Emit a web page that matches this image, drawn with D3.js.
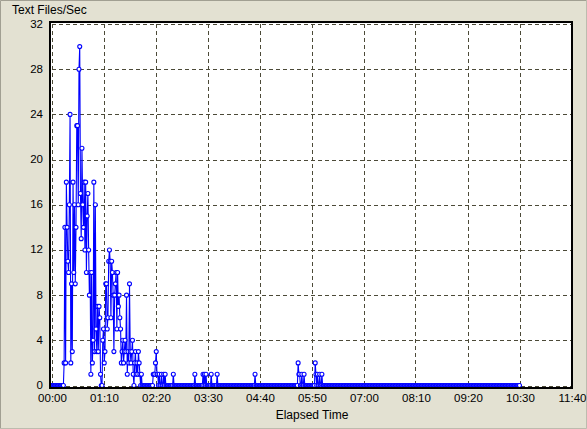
<!DOCTYPE html>
<html>
<head>
<meta charset="utf-8">
<script src="https://cdn.jsdelivr.net/npm/d3@7"></script>
<style>
  body { margin: 0; background: #e3e1d2; }
  svg { display: block; }
  text { font-family: 'Liberation Sans', Arial, sans-serif; font-size: 12px; fill: #000; }
  .tick-label { font-size: 11.5px; }
</style>
</head>
<body>
<div id="chart"></div>
<script>
/* global d3 */

// one sample per minute of elapsed time, 00:00 .. 10:30
const textFilesPerSec = [
  0, 0, 0, 0, 0, 0, 0, 0, 0, 0, 0, 0, 0, 0, 0, 0, 0, 2, 14, 2, 18, 14, 11, 10, 16, 24, 2, 9, 3, 18,
  10, 16, 9, 14, 23, 23, 16, 28, 30, 17, 13, 21, 16, 14, 18, 12, 18, 10, 15, 17, 12, 8, 10, 1, 10, 2, 4, 18, 3, 16,
  5, 3, 7, 3, 7, 6, 1, 0, 0, 4, 5, 2, 3, 9, 9, 5, 6, 11, 12, 11, 6, 11, 10, 8, 3, 8, 9, 10, 5, 10,
  7, 8, 6, 5, 2, 3, 4, 2, 3, 4, 3, 8, 1, 3, 2, 9, 3, 2, 3, 4, 1, 0, 2, 3, 1, 2, 1, 3, 2, 1,
  0, 1, 0, 0, 0, 0, 0, 0, 0, 0, 0, 0, 0, 0, 0, 0, 0, 1, 1, 1, 2, 3, 1, 1, 0, 1, 0, 0, 1, 0,
  0, 1, 0, 1, 0, 0, 0, 0, 0, 0, 0, 0, 0, 0, 1, 0, 0, 0, 0, 0, 0, 0, 0, 0, 0, 0, 0, 0, 0, 0,
  0, 0, 0, 0, 0, 0, 0, 0, 0, 0, 0, 0, 0, 1, 0, 0, 0, 0, 0, 0, 0, 0, 0, 0, 1, 0, 1, 0, 1, 0,
  0, 0, 0, 0, 0, 1, 0, 0, 0, 0, 0, 0, 0, 1, 0, 0, 0, 0, 0, 0, 0, 0, 0, 0, 0, 0, 0, 0, 0, 0,
  0, 0, 0, 0, 0, 0, 0, 0, 0, 0, 0, 0, 0, 0, 0, 0, 0, 0, 0, 0, 0, 0, 0, 0, 0, 0, 0, 0, 0, 0,
  0, 0, 0, 0, 1, 0, 0, 0, 0, 0, 0, 0, 0, 0, 0, 0, 0, 0, 0, 0, 0, 0, 0, 0, 0, 0, 0, 0, 0, 0,
  0, 0, 0, 0, 0, 0, 0, 0, 0, 0, 0, 0, 0, 0, 0, 0, 0, 0, 0, 0, 0, 0, 0, 0, 0, 0, 0, 0, 0, 0,
  0, 0, 2, 1, 1, 0, 0, 1, 0, 0, 1, 0, 0, 0, 0, 0, 0, 0, 0, 0, 0, 0, 0, 0, 0, 2, 1, 0, 1, 0,
  0, 1, 0, 0, 1, 0, 0, 0, 0, 0, 0, 0, 0, 0, 0, 0, 0, 0, 0, 0, 0, 0, 0, 0, 0, 0, 0, 0, 0, 0,
  0, 0, 0, 0, 0, 0, 0, 0, 0, 0, 0, 0, 0, 0, 0, 0, 0, 0, 0, 0, 0, 0, 0, 0, 0, 0, 0, 0, 0, 0,
  0, 0, 0, 0, 0, 0, 0, 0, 0, 0, 0, 0, 0, 0, 0, 0, 0, 0, 0, 0, 0, 0, 0, 0, 0, 0, 0, 0, 0, 0,
  0, 0, 0, 0, 0, 0, 0, 0, 0, 0, 0, 0, 0, 0, 0, 0, 0, 0, 0, 0, 0, 0, 0, 0, 0, 0, 0, 0, 0, 0,
  0, 0, 0, 0, 0, 0, 0, 0, 0, 0, 0, 0, 0, 0, 0, 0, 0, 0, 0, 0, 0, 0, 0, 0, 0, 0, 0, 0, 0, 0,
  0, 0, 0, 0, 0, 0, 0, 0, 0, 0, 0, 0, 0, 0, 0, 0, 0, 0, 0, 0, 0, 0, 0, 0, 0, 0, 0, 0, 0, 0,
  0, 0, 0, 0, 0, 0, 0, 0, 0, 0, 0, 0, 0, 0, 0, 0, 0, 0, 0, 0, 0, 0, 0, 0, 0, 0, 0, 0, 0, 0,
  0, 0, 0, 0, 0, 0, 0, 0, 0, 0, 0, 0, 0, 0, 0, 0, 0, 0, 0, 0, 0, 0, 0, 0, 0, 0, 0, 0, 0, 0,
  0, 0, 0, 0, 0, 0, 0, 0, 0, 0, 0, 0, 0, 0, 0, 0, 0, 0, 0, 0, 0, 0, 0, 0, 0, 0, 0, 0, 0, 0,
  0,
];
const sampleMinutes = 1;

const xTickMinutes = [0, 70, 140, 210, 280, 350, 420, 490, 560, 630, 700];
const xTickLabels = ['00:00', '01:10', '02:20', '03:30', '04:40', '05:50', '07:00', '08:10', '09:20', '10:30', '11:40'];
const yTicks = [0, 4, 8, 12, 16, 20, 24, 28, 32];

const yTitle = 'Text Files/Sec';
const xTitle = 'Elapsed Time';

const width = 587;
const height = 429;
const plot = { left: 51.5, right: 571.5, top: 24, bottom: 385.5 };

const x = d3.scaleLinear()
  .domain([0, 700])
  .range([plot.left, plot.right]);
const y = d3.scaleLinear()
  .domain([0, 32])
  .range([plot.bottom, plot.top]);

const points = textFilesPerSec.map((v, i) => ({ t: i * sampleMinutes, v }));

const svg = d3.select('#chart').append('svg')
  .attr('width', width)
  .attr('height', height);

// window-ish background and sunken border
svg.append('rect')
  .attr('width', width)
  .attr('height', height)
  .attr('fill', '#e3e1d2');
svg.append('path')
  .attr('d', `M0.5,${height} V0.5 H${width}`)
  .attr('fill', 'none')
  .attr('stroke', '#a19f92');
svg.append('path')
  .attr('d', `M${width - 0.5},0 V${height - 0.5} H0`)
  .attr('fill', 'none')
  .attr('stroke', '#bdbbae');

// plot area
svg.append('rect')
  .attr('x', 50)
  .attr('y', 22)
  .attr('width', 522)
  .attr('height', 366)
  .attr('fill', '#fff');

const grid = svg.append('g')
  .attr('stroke', '#4c4a38')
  .attr('stroke-dasharray', '4,3')
  .attr('shape-rendering', 'crispEdges');
grid.selectAll('line.v')
  .data(xTickMinutes)
  .enter().append('line')
  .attr('class', 'v')
  .attr('x1', d => Math.round(x(d)) + 0.5)
  .attr('x2', d => Math.round(x(d)) + 0.5)
  .attr('y1', plot.top)
  .attr('y2', plot.bottom);
grid.selectAll('line.h')
  .data(yTicks)
  .enter().append('line')
  .attr('class', 'h')
  .attr('x1', plot.left)
  .attr('x2', plot.right)
  .attr('y1', d => Math.round(y(d)) + 0.5)
  .attr('y2', d => Math.round(y(d)) + 0.5);

// series line with hollow markers
const line = d3.line()
  .x(d => x(d.t))
  .y(d => y(d.v));

svg.append('path')
  .datum(points)
  .attr('d', line)
  .attr('fill', 'none')
  .attr('stroke', '#0000ff')
  .attr('stroke-width', 1.1);

svg.append('g')
  .selectAll('circle')
  .data(points)
  .enter().append('circle')
  .attr('cx', d => x(d.t))
  .attr('cy', d => y(d.v))
  .attr('r', 2)
  .attr('fill', '#fff')
  .attr('stroke', '#0000ff')
  .attr('stroke-width', 1.1);

// black frame
svg.append('rect')
  .attr('x', 50)
  .attr('y', 22)
  .attr('width', 522)
  .attr('height', 366)
  .attr('fill', 'none')
  .attr('stroke', '#000')
  .attr('stroke-width', 2);

// tick labels
svg.append('g')
  .selectAll('text')
  .data(yTicks)
  .enter().append('text')
  .attr('class', 'tick-label')
  .attr('x', 43)
  .attr('y', d => y(d) + 3.5)
  .attr('text-anchor', 'end')
  .text(d => d);

svg.append('g')
  .selectAll('text')
  .data(xTickMinutes)
  .enter().append('text')
  .attr('class', 'tick-label')
  .attr('x', d => x(d) + 1)
  .attr('y', 402)
  .attr('text-anchor', 'middle')
  .text((d, i) => xTickLabels[i]);

svg.append('text')
  .attr('x', 12)
  .attr('y', 14)
  .text(yTitle);

svg.append('text')
  .attr('x', 312)
  .attr('y', 419)
  .attr('text-anchor', 'middle')
  .text(xTitle);
</script>
</body>
</html>
